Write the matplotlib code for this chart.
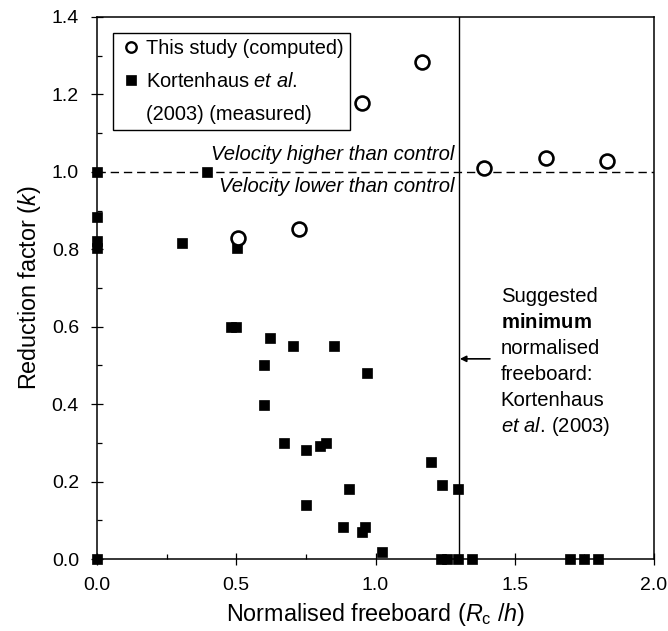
import matplotlib
matplotlib.use('Agg')
import matplotlib.pyplot as plt
from matplotlib.lines import Line2D
from matplotlib.ticker import MultipleLocator, FormatStrFormatter

plt.rcParams['font.family'] = ['Liberation Sans', 'DejaVu Sans']
plt.rcParams['mathtext.fontset'] = 'custom'
plt.rcParams['mathtext.rm'] = 'Liberation Sans'
plt.rcParams['mathtext.it'] = 'Liberation Sans:italic'
plt.rcParams['mathtext.bf'] = 'Liberation Sans:bold'

# ---- data ----
study_x = [0.507, 0.725, 0.950, 1.167, 1.391, 1.611, 1.831]
study_k = [0.828, 0.853, 1.178, 1.283, 1.011, 1.037, 1.027]

kort_x = [0.0, 0.0, 0.0, 0.0, 0.0,
          0.304, 0.396, 0.504,
          0.48, 0.50, 0.621, 0.703, 0.852, 0.60, 0.971, 0.60,
          0.673, 0.75, 0.80, 0.821, 0.904, 0.75,
          0.883, 0.950, 0.962, 1.022,
          1.199, 1.240, 1.297,
          1.235, 1.255, 1.297, 1.348, 1.697, 1.749, 1.80]
kort_k = [1.0, 0.883, 0.822, 0.803, 0.0,
          0.817, 1.0, 0.803,
          0.60, 0.60, 0.572, 0.55, 0.55, 0.501, 0.48, 0.399,
          0.299, 0.281, 0.293, 0.299, 0.181, 0.14,
          0.082, 0.071, 0.082, 0.019,
          0.251, 0.191, 0.181,
          0.0, 0.0, 0.0, 0.0, 0.0, 0.0, 0.0]

control_k = 1.0
min_freeboard = 1.3

fs_tick = 14
fs_text = 14.6
fs_label = 16.8

fig = plt.figure(figsize=(6.68, 6.31), dpi=100)
ax = fig.add_axes([97/668, 72/631, 557/668, 542/631])

ax.axhline(control_k, color='black', lw=1.0, ls=(0, (6, 3.5)), zorder=1)
ax.axvline(min_freeboard, color='black', lw=1.0, zorder=1)

ax.plot(kort_x, kort_k, ls='none', marker='s', ms=7.8, mfc='black', mec='black',
        mew=0.5, clip_on=False, zorder=3)
ax.plot(study_x, study_k, ls='none', marker='o', ms=10, mfc='white', mec='black',
        mew=1.9, clip_on=False, zorder=4)

ax.set_xlim(0, 2.0)
ax.set_ylim(0, 1.4)
ax.xaxis.set_major_locator(MultipleLocator(0.5))
ax.xaxis.set_minor_locator(MultipleLocator(0.25))
ax.yaxis.set_major_locator(MultipleLocator(0.2))
ax.yaxis.set_minor_locator(MultipleLocator(0.1))
ax.xaxis.set_major_formatter(FormatStrFormatter('%.1f'))
ax.yaxis.set_major_formatter(FormatStrFormatter('%.1f'))
ax.tick_params(which='major', direction='inout', length=8, width=0.9,
               labelsize=fs_tick, top=False, right=False, pad=9)
ax.tick_params(which='minor', direction='in', length=3.5, width=0.9,
               top=False, right=False)
for s in ax.spines.values():
    s.set_linewidth(1.1)
    s.set_color('black')

ax.set_xlabel('Normalised freeboard ($R_{\\mathrm{c}}$ /$h$)', fontsize=fs_label, labelpad=5)
ax.set_ylabel('Reduction factor ($k$)', fontsize=fs_label, labelpad=6)

ax.text(1.285, 1.044, 'Velocity higher than control', style='italic', fontsize=fs_text,
        ha='right', va='center')
ax.text(1.285, 0.961, 'Velocity lower than control', style='italic', fontsize=fs_text,
        ha='right', va='center')

ax.annotate('', xy=(1.303, 0.517), xytext=(1.411, 0.517),
            arrowprops=dict(arrowstyle='-|>', color='black', lw=1.2,
                            mutation_scale=9, shrinkA=0, shrinkB=0))
note_lines = ['Suggested', '$\\mathbf{minimum}$', 'normalised', 'freeboard:',
              'Kortenhaus', '$\\mathit{et\\ al.}\\,\\mathrm{(2003)}$']
for i, line in enumerate(note_lines):
    ax.text(1.45, 0.678 - i * 0.0672, line, fontsize=fs_text, ha='left', va='center')

handles = [Line2D([], [], ls='none', marker='o', ms=7.5, mfc='white', mec='black', mew=1.7),
           Line2D([], [], ls='none', marker='s', ms=7.2, mfc='black', mec='black', mew=0.5),
           Line2D([], [], ls='none')]
labels = ['This study (computed)', 'Kortenhaus $\\mathit{et\\ al.}$', '(2003) (measured)']
leg = ax.legend(handles, labels, loc='upper left', bbox_to_anchor=(0.029, 0.970),
                borderaxespad=0, fontsize=14.4, frameon=True, fancybox=False,
                edgecolor='black', framealpha=1, handlelength=1.2, handletextpad=0.15,
                labelspacing=0.7, borderpad=0.3)
leg.get_frame().set_linewidth(1.0)

fig.savefig('out.png', dpi=100)
